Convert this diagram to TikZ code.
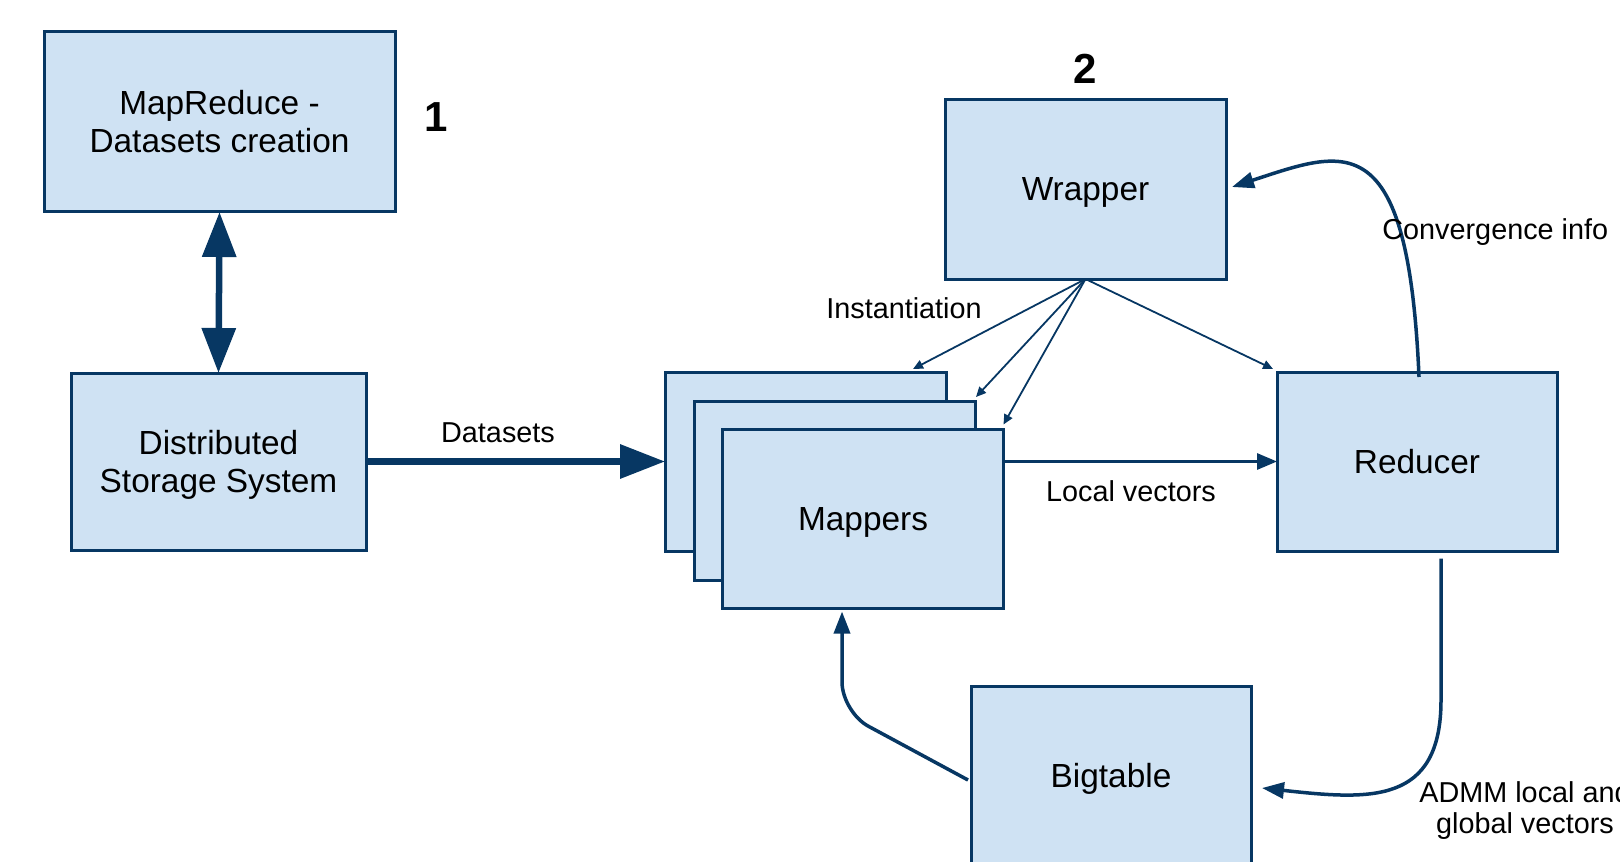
\documentclass[tikz,border=0pt]{standalone}
\usepackage{fontspec}
\setmainfont{Liberation Sans}
\usetikzlibrary{calc,arrows.meta}
\definecolor{boxfill}{HTML}{CFE2F3}
\definecolor{boxline}{HTML}{073763}
\tikzset{% define the boxes and the arrow kinds
  block/.style={draw=boxline, fill=boxfill, line width=1.5pt, inner sep=0pt, outer sep=0pt,
    minimum width=140.5pt, minimum height=89.5pt, align=center,
    font=\fontsize{16.7pt}{19pt}\selectfont},
  single/.style={block, text depth=0pt},
  lbl/.style={font=\fontsize{14.4pt}{15.5pt}\selectfont, inner sep=0pt},
  num/.style={font=\fontsize{21pt}{24pt}\selectfont\bfseries, inner sep=0pt},
  fat/.style={draw=boxline, line width=3.25pt, -{Triangle[length=22.5pt,width=16.5pt]}},
  link/.style={draw=boxline, line width=1.5pt, -{Triangle[length=10pt,width=8pt]}},
  curvy/.style={draw=boxline, line width=1.75pt, -{Triangle[length=11pt,width=8pt]}},
  fine/.style={draw=boxline, line width=0.9pt, -{Triangle[length=5pt,width=4.5pt]}}
}

\begin{document}
\begin{tikzpicture}[x=0.5pt, y=-0.5pt]
\useasboundingbox (0,0) rectangle (1620,861);

% boxes
\node [block, minimum width=175.5pt, minimum height=90pt] (mapred) at (219.5,122) {MapReduce -\\Datasets creation};
\node [block, minimum width=147.5pt, minimum height=88.5pt] (dss) at (218.5,461.5) {Distributed\\\smash{Storage System}};
\node [block] (mapback) at (805.5,461.5) {};
\node [block] (mapmid) at (834.5,490.5) {};
\node [single] (mapfront) at (863,519) {Mappers};
\node [single] (wrap) at (1085.5,189.5) {Wrapper};
\node [single, minimum width=140pt] (red) at (1417,461.5) {Reducer};
\node [single, minimum width=140pt] (bt) at (1111,775.5) {Bigtable};

% step numbers
\node [num] (one) at (436,117) {1};
\node [num] (two) at (1085,69) {2};

% arrows
\draw [fat, {Triangle[length=22.5pt,width=16.5pt]}-{Triangle[length=22.5pt,width=16.5pt]}] (mapred.south) -- (dss.north);
\draw [fat] (dss.east) -- (mapback.west);
\draw [link] (mapfront.east |- red.west) -- (red.west);
\draw [fine] (wrap.south) -- ($(mapback.north east)+(-33,-3)$);
\draw [fine] (wrap.south) -- ($(mapmid.north east)+(1,-4)$);
\draw [fine] (wrap.south) -- ($(mapfront.north east)+(0,-5)$);
\draw [fine] (wrap.south) -- ($(red.north west)+(-4,-3)$);
\draw [curvy] ($(red.north)+(2,5)$) .. controls (1408,122) and (1345,150) .. ($(wrap.east)+(6,-2.5)$);
\draw [curvy] ($(red.south)+(24,7.5)$) -- (1441,700) .. controls (1441,805) and (1370,800) .. ($(bt.east)+(11,12.5)$);
\draw [curvy, rounded corners=15pt] ($(bt.west)+(-3,4.5)$) -- (842,712) -- ($(mapfront.south)+(-21,3)$);

% labels
\node [lbl, anchor=base] (dlabel) at (498,442) {Datasets};
\node [lbl, anchor=base] (ilabel) at (904,318) {Instantiation};
\node [lbl, anchor=base] (vlabel) at (1131,501) {Local vectors};
\node [lbl, anchor=base west] (clabel) at (1382,239) {Convergence info};
\node [lbl, align=center] (alabel) at (1525,811) {ADMM local and\\global vectors};

\end{tikzpicture}
\end{document}
